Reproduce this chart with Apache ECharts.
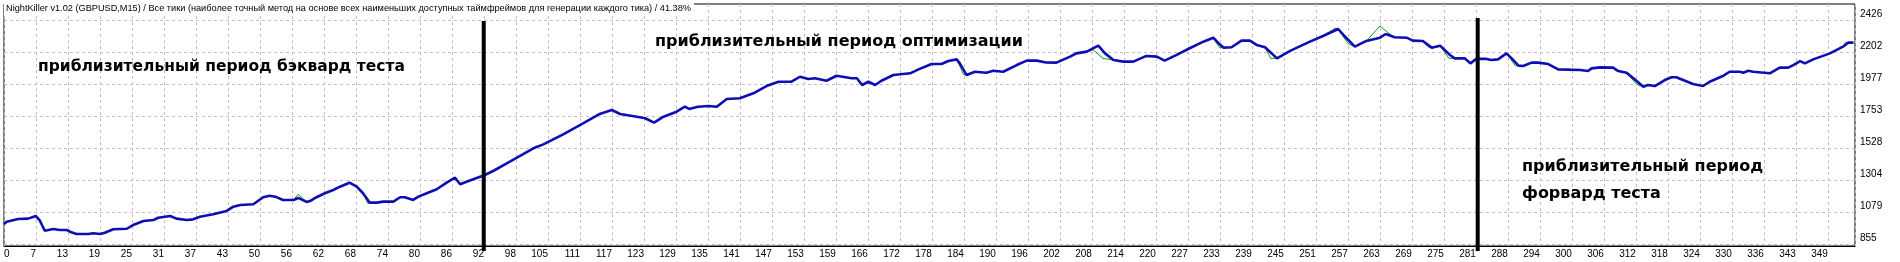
<!DOCTYPE html>
<html>
<head>
<meta charset="utf-8">
<title>NightKiller v1.02</title>
<script src="https://cdn.jsdelivr.net/npm/echarts@6/dist/echarts.min.js"></script>
<style>
    html, body { margin: 0; padding: 0; background: #fff; }
    #chart { width: 1900px; height: 262px; }
</style>
</head>
<body>
<div id="chart"></div>
<script>
    // номер сделки -> баланс
    var balanceTrades = [0, 0.5, 2.7, 4.6, 6.1, 6.8, 7.8, 9.4, 10.7, 12.0, 12.9, 13.9, 16.1, 17.1, 18.4, 19.3, 20.9, 23.5, 24.7, 26.7,
        28.6, 29.5, 31.8, 33.0, 35.0, 36.2, 37.5, 40.0, 42.6, 43.9, 45.2, 47.7, 49.6, 50.8, 51.9, 53.4, 55.4, 56.3, 57.9, 58.7,
        59.8, 61.4, 63.0, 64.3, 66.1, 67.5, 68.7, 70.0, 71.3, 72.6, 74.5, 75.8, 76.7, 78.3, 79.3, 80.9, 82.8, 84.7, 86.3, 87.3,
        88.5, 91.1, 91.7, 93.6, 96.8, 101.3, 103.2, 107.0, 110.8, 114.0, 116.3, 117.9, 121.1, 122.7, 124.4, 126.2, 128.7, 130.3, 131.1, 132.8,
        134.8, 136.4, 138.3, 140.8, 143.4, 145.9, 148.2, 150.7, 152.3, 153.9, 155.2, 157.4, 159.3, 162.2, 163.2, 164.2, 165.4, 166.7, 167.9, 170.2,
        173.4, 175.0, 177.5, 179.4, 180.7, 182.3, 182.9, 184.2, 185.8, 188.0, 189.3, 191.2, 193.8, 195.7, 197.6, 199.2, 201.4, 204.0, 205.2, 207.2,
        209.4, 210.7, 212.3, 214.2, 216.1, 218.6, 220.6, 222.1, 224.4, 226.9, 229.5, 231.4, 232.4, 233.4, 234.9, 236.8, 238.4, 239.7, 241.3, 243.6,
        246.1, 249.9, 252.4, 255.3, 256.3, 258.5, 260.7, 263.3, 264.4, 266.1, 268.4, 269.6, 271.5, 273.2, 274.8, 276.7, 277.6, 279.5, 280.6, 281.7,
        283.7, 284.6, 285.9, 287.5, 288.5, 289.8, 290.7, 292.3, 293.6, 295.5, 297.4, 301.6, 303.1, 303.8, 305.4, 307.9, 308.9, 310.5, 311.8, 313.7,
        314.6, 315.9, 317.8, 319.1, 320.0, 321.3, 323.2, 325.1, 326.4, 328.9, 330.2, 332.2, 332.8, 333.8, 334.7, 337.9, 339.8, 341.4, 342.4, 343.7,
        344.6, 346.2, 349.4, 351.9, 352.9, 353.9];
    var balanceValues = [995, 1011, 1030, 1033, 1051, 1023, 948, 960, 953, 953, 937, 925, 925, 930, 925, 934, 958, 962, 988, 1016,
        1023, 1039, 1051, 1033, 1023, 1028, 1046, 1063, 1087, 1117, 1129, 1134, 1183, 1194, 1187, 1164, 1164, 1178, 1150, 1159,
        1183, 1211, 1234, 1257, 1285, 1257, 1211, 1145, 1145, 1152, 1152, 1183, 1183, 1164, 1187, 1211, 1239, 1285, 1320, 1274,
        1292, 1327, 1334, 1367, 1432, 1526, 1554, 1624, 1701, 1767, 1795, 1767, 1748, 1737, 1706, 1748, 1783, 1818, 1802, 1818,
        1823, 1818, 1872, 1877, 1912, 1963, 1993, 1993, 2028, 2012, 2017, 2000, 2035, 2017, 2017, 1970, 1993, 1970, 2000, 2040,
        2052, 2080, 2117, 2117, 2138, 2150, 2122, 2040, 2063, 2056, 2070, 2063, 2110, 2141, 2141, 2129, 2127, 2169, 2192, 2204,
        2246, 2192, 2145, 2134, 2134, 2174, 2169, 2141, 2181, 2228, 2274, 2302, 2263, 2232, 2235, 2281, 2281, 2251, 2235, 2157,
        2209, 2274, 2314, 2363, 2321, 2239, 2279, 2302, 2328, 2305, 2302, 2281, 2279, 2232, 2246, 2181, 2157, 2157, 2122, 2153,
        2153, 2146, 2150, 2192, 2157, 2106, 2103, 2127, 2127, 2117, 2080, 2075, 2068, 2087, 2094, 2092, 2068, 2056, 2017, 1958,
        1970, 1963, 2005, 2024, 2024, 2005, 1977, 1963, 1993, 2033, 2063, 2063, 2056, 2070, 2063, 2052, 2092, 2092, 2110, 2138,
        2122, 2150, 2192, 2239, 2267, 2267];

    // эквити - только куски, где оно отходит от баланса (null = разрыв)
    var equityTrades = [6.1, 7.3, 7.8, null, 55.4, 56.3, 57.9, null, 68.7, 69.6, 71.3, null, 182.3, 183.6, 184.2, null,
        207.2, 208.4, 210.3, 212.3, null, 231.4, 232.6, 233.4, null, 241.3, 242.4, 243.6, null,
        252.4, 254.7, 255.3, 257.2, 258.5, null, 260.7, 263.3, 266.1, null, 271.5, 272.7, 274.8, 276.5, 277.6, null,
        287.5, 289.2, 290.7, null, 310.5, 312.4, 313.7, null, 351.9, 352.4, 353.9];
    var equityValues = [1051, 985, 948, null, 1164, 1204, 1150, null, 1211, 1140, 1145, null, 2150, 2045, 2040, null,
        2204, 2216, 2157, 2145, null, 2302, 2232, 2232, null, 2235, 2157, 2157, null,
        2314, 2368, 2363, 2260, 2239, null, 2279, 2384, 2300, null, 2279, 2232, 2246, 2157, 2157, null,
        2192, 2106, 2103, null, 2056, 1975, 1958, null, 2239, 2270, 2267];

    // подписи осей
    var xLabels = ['0', '7', '13', '19', '25', '31', '37', '43', '50', '56', '62', '68', '74', '80', '86', '92', '98', '105', '111', '117',
        '123', '129', '135', '141', '147', '153', '159', '166', '172', '178', '184', '190', '196', '202', '208', '214', '220', '227', '233', '239',
        '245', '251', '257', '263', '269', '275', '281', '288', '294', '300', '306', '312', '318', '324', '330', '336', '343', '349'];
    var yLabels = [855, 1079, 1304, 1528, 1753, 1977, 2202, 2426];

    // границы периодов (вертикальные черные линии)
    var periodTrades = [91.8, 282.0];
    var periodTops = [2419, 2440];
    var periodBottom = 806;

    var titleText = 'NightKiller v1.02 (GBPUSD,M15) / Все тики (наиболее точный метод на основе всех наименьших доступных таймфреймов для генерации каждого тика) / 41.38%';

    var xStep = 349 / (xLabels.length - 1);

    var balanceData = balanceTrades.map(function (t, i) {
        return [t, balanceValues[i]];
    });
    var equityData = equityTrades.map(function (t, i) {
        return t === null ? '-' : [t, equityValues[i]];
    });
    var periodData = periodTrades.map(function (t, i) {
        return [t, periodTops[i], periodBottom];
    });

    var gridLine = {
        show: true,
        lineStyle: {color: '#c9b9c9', type: [3, 3], width: 1}
    };

    var chart = echarts.init(document.getElementById('chart'), null, {renderer: 'canvas'});
    chart.setOption({
        animation: false,
        backgroundColor: '#fff',
        title: {
            text: titleText,
            left: 4,
            top: 0,
            padding: [3, 3, 2, 2],
            backgroundColor: '#fff',
            textStyle: {
                fontFamily: 'Liberation Sans',
                fontSize: 9.2,
                fontWeight: 'normal',
                color: '#000',
                lineHeight: 11
            }
        },
        grid: {
            left: 4,
            right: 45,
            top: 4,
            bottom: 16,
            show: true,
            borderColor: '#000',
            borderWidth: 1
        },
        xAxis: {
            type: 'value',
            min: 0,
            max: 354.2,
            interval: xStep,
            axisLine: {show: true, onZero: false, lineStyle: {color: '#000'}},
            axisTick: {show: false},
            splitLine: gridLine,
            axisLabel: {
                fontFamily: 'Liberation Sans',
                fontSize: 10,
                color: '#000',
                margin: 3,
                align: 'right',
                alignMinLabel: 'left',
                showMaxLabel: false,
                formatter: function (v) {
                    var i = Math.round(v / xStep);
                    if (Math.abs(i * xStep - v) > 0.01) return '';
                    return xLabels[i] || '';
                }
            }
        },
        yAxis: {
            type: 'value',
            position: 'right',
            min: 841,
            max: 2538.2,
            axisLine: {show: false},
            axisTick: {show: false, customValues: yLabels},
            splitLine: gridLine,
            axisLabel: {
                customValues: yLabels,
                fontFamily: 'Liberation Sans',
                fontSize: 10,
                color: '#000',
                margin: 5,
                verticalAlign: 'bottom',
                lineHeight: 11,
                formatter: function (v) {
                    return String(Math.round(v));
                }
            }
        },
        graphic: [
            {
                type: 'text', left: 38, top: 59, z: 100,
                style: {text: 'приблизительный период бэквард теста', font: 'bold 15.5px "DejaVu Sans"', fill: '#000'}
            },
            {
                type: 'text', left: 655, top: 34, z: 100,
                style: {text: 'приблизительный период оптимизации', font: 'bold 16px "DejaVu Sans"', fill: '#000'}
            },
            {
                type: 'text', left: 1522, top: 153, z: 100,
                style: {text: 'приблизительный период\nфорвард теста', font: 'bold 16px "DejaVu Sans"', fill: '#000', lineHeight: 27}
            }
        ],
        series: [
            {
                name: 'Эквити',
                type: 'line',
                data: equityData,
                showSymbol: false,
                connectNulls: false,
                z: 2,
                lineStyle: {color: '#10a010', width: 1}
            },
            {
                name: 'Баланс',
                type: 'line',
                data: balanceData,
                showSymbol: false,
                z: 3,
                lineStyle: {color: '#0e0eb2', width: 2.6}
            },
            {
                name: 'Периоды',
                type: 'custom',
                data: periodData,
                z: 5,
                clip: false,
                renderItem: function (params, api) {
                    var top = api.coord([api.value(0), api.value(1)]);
                    var bottom = api.coord([api.value(0), api.value(2)]);
                    return {
                        type: 'line',
                        shape: {x1: top[0], y1: top[1], x2: bottom[0], y2: bottom[1]},
                        style: {stroke: '#000', lineWidth: 4}
                    };
                }
            }
        ]
    });
</script>
</body>
</html>
